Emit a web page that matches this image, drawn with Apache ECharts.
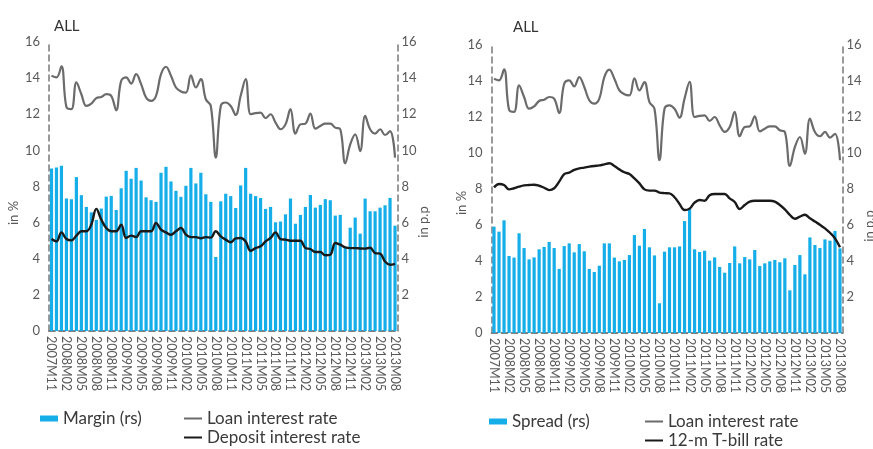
<!DOCTYPE html>
<html><head><meta charset="utf-8">
<script src="https://cdn.jsdelivr.net/npm/echarts@6/dist/echarts.min.js"></script>
<style>html,body{margin:0;padding:0;background:#fff}#c{width:873px;height:449px}</style>
</head><body><div id="c"></div>
<script>
const months = ['2007M11','2007M12',
'2008M01','2008M02','2008M03','2008M04','2008M05','2008M06','2008M07','2008M08','2008M09','2008M10','2008M11','2008M12',
'2009M01','2009M02','2009M03','2009M04','2009M05','2009M06','2009M07','2009M08','2009M09','2009M10','2009M11','2009M12',
'2010M01','2010M02','2010M03','2010M04','2010M05','2010M06','2010M07','2010M08','2010M09','2010M10','2010M11','2010M12',
'2011M01','2011M02','2011M03','2011M04','2011M05','2011M06','2011M07','2011M08','2011M09','2011M10','2011M11','2011M12',
'2012M01','2012M02','2012M03','2012M04','2012M05','2012M06','2012M07','2012M08','2012M09','2012M10','2012M11','2012M12',
'2013M01','2013M02','2013M03','2013M04','2013M05','2013M06','2013M07','2013M08'];

const margin = [9.0,9.05,9.15,7.33,7.3,8.52,7.52,6.87,6.57,6.15,
6.78,7.44,7.48,6.7,7.9,8.87,8.43,9.03,8.33,7.4,
7.24,7.15,8.76,9.09,8.28,7.76,7.43,8.04,9.03,8.17,
8.76,7.57,7.15,4.1,7.18,7.6,7.47,6.81,8.06,9.03,
7.6,7.47,7.37,6.76,6.87,6.02,6.06,6.46,7.33,5.94,
6.43,6.87,7.53,6.83,6.98,7.3,7.24,6.39,6.43,4.6,
5.72,6.28,5.39,7.33,6.63,6.63,6.83,6.96,7.37,5.83];

const loanRate = [14.13,14.04,14.65,12.4,12.28,13.76,13.11,12.46,12.59,12.89,
12.96,13.11,13.02,12.22,13.85,14.04,13.7,14.22,13.67,12.93,
12.74,13.02,14.22,14.63,14.13,13.48,13.26,13.2,14.15,13.48,
13.94,12.83,12.46,9.6,12.46,12.65,12.46,11.96,13.02,13.95,
12.0,12.06,12.09,11.78,12.0,11.54,11.17,11.44,12.28,10.93,
11.44,11.48,12.04,11.2,11.35,11.48,11.48,11.26,11.17,9.28,
10.33,10.89,9.96,11.91,11.17,10.93,11.17,10.85,11.07,9.6];

const depositRate = [5.09,4.96,5.46,5.09,5.02,5.28,5.52,5.52,5.89,6.76,
6.17,5.7,5.52,5.52,5.89,5.15,5.28,5.2,5.52,5.52,
5.52,5.98,5.61,5.46,5.33,5.52,5.7,5.33,5.2,5.2,
5.13,5.2,5.17,5.52,5.24,5.06,4.91,5.13,5.15,4.96,
4.44,4.59,4.69,4.96,5.15,5.46,5.09,5.06,5.0,5.0,
5.0,4.59,4.54,4.37,4.37,4.19,4.22,4.87,4.78,4.63,
4.59,4.59,4.57,4.56,4.61,4.31,4.28,3.85,3.67,3.72];

const spread = [5.91,5.63,6.26,4.28,4.19,5.54,4.72,4.09,4.2,4.65,
4.78,5.06,4.72,3.56,4.83,4.98,4.48,4.94,4.54,3.56,
3.39,3.74,4.98,4.98,4.19,3.98,4.06,4.33,5.44,4.85,
5.78,4.76,4.31,1.65,4.52,4.76,4.76,4.81,6.22,6.9,
4.65,4.5,4.57,4.02,4.2,3.67,3.35,3.89,4.81,3.87,
4.22,4.09,4.61,3.72,3.87,3.98,4.06,3.93,4.15,2.37,
3.78,4.33,3.26,5.31,4.89,4.72,5.2,5.13,5.67,4.7];

const tbillRate = [8.09,8.28,8.22,7.98,8.04,8.13,8.2,8.22,8.24,8.18,
8.07,7.94,8.04,8.41,8.83,8.91,9.06,9.15,9.19,9.24,
9.28,9.31,9.37,9.43,9.28,9.09,8.93,8.83,8.59,8.31,
7.98,7.91,7.91,7.8,7.77,7.76,7.54,7.17,6.83,6.91,
7.24,7.39,7.35,7.65,7.72,7.72,7.72,7.48,7.28,6.89,
7.11,7.3,7.35,7.35,7.35,7.35,7.3,7.11,6.87,6.56,
6.35,6.46,6.57,6.37,6.19,6.02,5.81,5.57,5.26,4.76];

const yTicks = [0,2,4,6,8,10,12,14,16];

const FONT = 'Lato';
const AXIS_GRAY = '#7a7a7a';
const LABEL = '#595959';
const BLUE = '#16aee9';
const LOAN = '#6b6b6b';
const BLACK = '#1a1a1a';
const dash = {color: AXIS_GRAY, width: 1.5, type: [6,4]};

function catAxis(grid, pos, showLabels) {
  return {
    type: 'category', gridIndex: grid, position: pos, data: months, boundaryGap: true,
    axisLine: {show: true, lineStyle: dash},
    axisTick: {show: false},
    axisLabel: showLabels ? {show: true, interval: 2, rotate: -90, color: LABEL, fontSize: 12.5, fontFamily: FONT, margin: 5} : {show: false},
    splitLine: {show: false}
  };
}
function valAxis(grid, pos, hideMin) {
  return {
    type: 'value', gridIndex: grid, position: pos,
    min: yTicks[0], max: yTicks[yTicks.length-1], interval: 2,
    axisLine: {show: true, lineStyle: dash},
    axisTick: {show: false},
    axisLabel: {color: LABEL, fontSize: 13, fontFamily: FONT, margin: pos === 'left' ? 9 : 4, showMinLabel: !hideMin},
    splitLine: {show: false}
  };
}
function legendItem(name, left, top, isBar) {
  return {
    data: [name], left: left, top: top, padding: 0, selectedMode: false,
    icon: 'rect', itemWidth: 18, itemHeight: isBar ? 6 : 2,
    textStyle: {color: '#3a3a3a', fontSize: 17, fontFamily: FONT}
  };
}

const chart = echarts.init(document.getElementById('c'));
chart.setOption({
  animation: false,
  textStyle: {fontFamily: FONT},
  title: [
    {text: 'ALL', left: 49, top: 14, textStyle: {fontSize: 15, fontWeight: 'normal', color: '#333', fontFamily: FONT}},
    {text: 'ALL', left: 508, top: 15, textStyle: {fontSize: 15, fontWeight: 'normal', color: '#333', fontFamily: FONT}}
  ],
  grid: [
    {left: 49, right: 475.5, top: 42, bottom: 118},
    {left: 491.5, right: 30.5, top: 45, bottom: 116}
  ],
  xAxis: [catAxis(0, 'bottom', true), catAxis(0, 'top', false), catAxis(1, 'bottom', true), catAxis(1, 'top', false)],
  yAxis: [valAxis(0, 'left', false), valAxis(0, 'right', true), valAxis(1, 'left', false), valAxis(1, 'right', true)],
  legend: [
    legendItem('Margin (rs)', 40, 410, true),
    legendItem('Loan interest rate', 184, 410, false),
    legendItem('Deposit interest rate', 184, 429, false),
    legendItem('Spread (rs)', 489, 413, true),
    legendItem('Loan interest rate', 645, 413, false),
    legendItem('12-m T-bill rate', 645, 432, false)
  ],
  graphic: [
    {type: 'text', x: 14, y: 213, rotation: Math.PI/2, style: {text: 'in %', fill: LABEL, font: '13px ' + FONT, align: 'center', verticalAlign: 'middle'}},
    {type: 'text', x: 424, y: 222, rotation: Math.PI/2, style: {text: 'in p.p', fill: LABEL, font: '13px ' + FONT, align: 'center', verticalAlign: 'middle'}},
    {type: 'text', x: 462, y: 203, rotation: Math.PI/2, style: {text: 'in %', fill: LABEL, font: '13px ' + FONT, align: 'center', verticalAlign: 'middle'}},
    {type: 'text', x: 870, y: 226, rotation: Math.PI/2, style: {text: 'in p.p', fill: LABEL, font: '13px ' + FONT, align: 'center', verticalAlign: 'middle'}}
  ],
  series: [
    {name: 'Margin (rs)', type: 'bar', xAxisIndex: 0, yAxisIndex: 1, data: margin, barWidth: 3.2, itemStyle: {color: BLUE}},
    {name: 'Loan interest rate', type: 'line', xAxisIndex: 0, yAxisIndex: 0, data: loanRate, smooth: 0.4, showSymbol: false, symbol: 'none', lineStyle: {color: LOAN, width: 2.2}, itemStyle: {color: LOAN}},
    {name: 'Deposit interest rate', type: 'line', xAxisIndex: 0, yAxisIndex: 0, data: depositRate, smooth: 0.4, showSymbol: false, symbol: 'none', lineStyle: {color: BLACK, width: 2.4}, itemStyle: {color: BLACK}},
    {name: 'Spread (rs)', type: 'bar', xAxisIndex: 2, yAxisIndex: 3, data: spread, barWidth: 3.2, itemStyle: {color: BLUE}},
    {name: 'Loan interest rate', type: 'line', xAxisIndex: 2, yAxisIndex: 2, data: loanRate, smooth: 0.4, showSymbol: false, symbol: 'none', lineStyle: {color: LOAN, width: 2.2}, itemStyle: {color: LOAN}},
    {name: '12-m T-bill rate', type: 'line', xAxisIndex: 2, yAxisIndex: 2, data: tbillRate, smooth: 0.4, showSymbol: false, symbol: 'none', lineStyle: {color: BLACK, width: 2.4}, itemStyle: {color: BLACK}}
  ]
});
</script>
</body></html>
